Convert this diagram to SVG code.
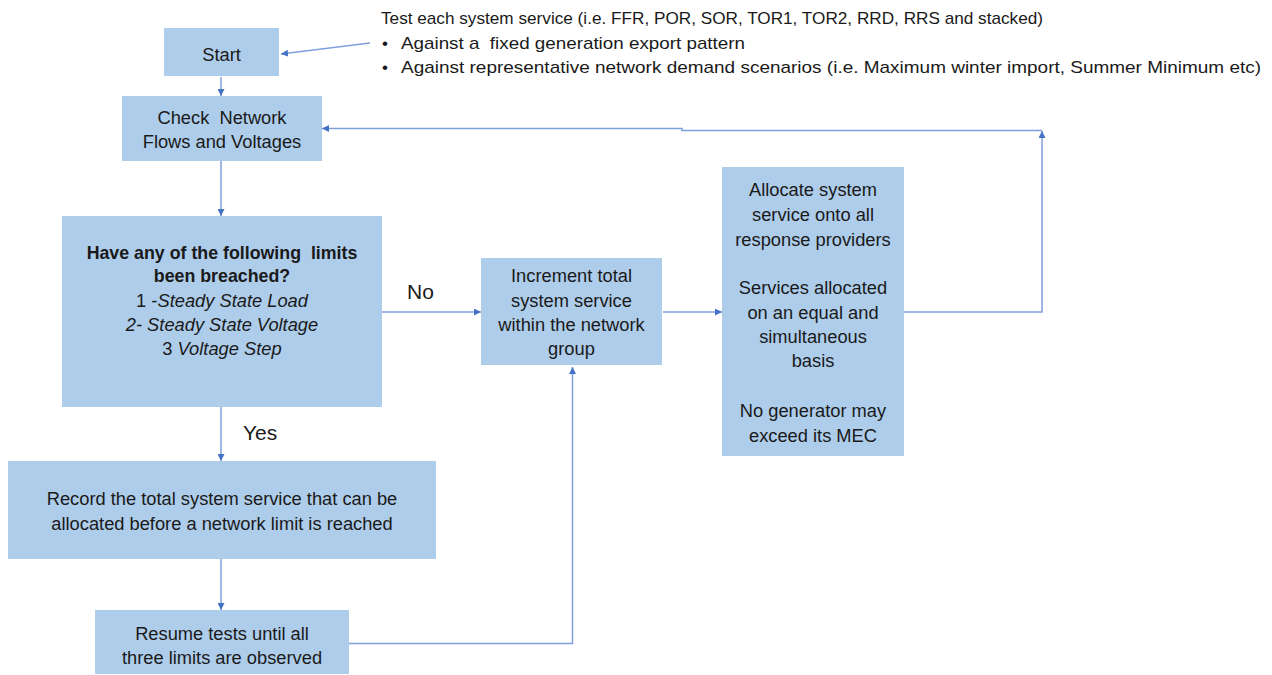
<svg xmlns="http://www.w3.org/2000/svg" width="1272" height="675" viewBox="0 0 1272 675">
<defs>
<style>
.box{fill:#AECDEA;}
.t{font-family:"Liberation Sans",Arial,sans-serif;font-size:18.3px;fill:#1a1a1a;text-anchor:middle;white-space:pre;}
.tl{font-family:"Liberation Sans",Arial,sans-serif;font-size:17px;fill:#1a1a1a;white-space:pre;}
.lbl{font-family:"Liberation Sans",Arial,sans-serif;font-size:21px;fill:#1a1a1a;}
.b{font-weight:bold;font-size:17.8px;}
.i{font-style:italic;}
.c{fill:none;stroke:#7E9FDC;stroke-width:1.5;}
</style>
<marker id="ah" viewBox="0 0 10 10" refX="10" refY="5" markerWidth="7" markerHeight="7" orient="auto" markerUnits="userSpaceOnUse">
<path d="M0,0 L10,5 L0,10 z" fill="#4472C4"/>
</marker>
</defs>
<rect width="1272" height="675" fill="#ffffff"/>

<g id="connectors">
<line class="c" x1="370" y1="43" x2="281" y2="54" marker-end="url(#ah)"/>
<line class="c" x1="221" y1="77" x2="221" y2="96" marker-end="url(#ah)"/>
<line class="c" x1="221" y1="161" x2="221" y2="216" marker-end="url(#ah)"/>
<line class="c" x1="382" y1="312" x2="481" y2="312" marker-end="url(#ah)"/>
<line class="c" x1="663" y1="312" x2="722" y2="312" marker-end="url(#ah)"/>
<polyline class="c" points="904,312 1042,312 1042,131" marker-end="url(#ah)"/>
<polyline class="c" points="1042,130.5 682,130.5 682,128.5 322,128.5" marker-end="url(#ah)"/>
<line class="c" x1="221" y1="407" x2="221" y2="461" marker-end="url(#ah)"/>
<line class="c" x1="221" y1="559" x2="221" y2="610" marker-end="url(#ah)"/>
<polyline class="c" points="349,643.5 572.5,643.5 572.5,367" marker-end="url(#ah)"/>
<text class="lbl" x="407" y="299">No</text>
<text class="lbl" x="243" y="440">Yes</text>
</g>

<g id="note">
<text class="tl" x="381" y="24" textLength="662" lengthAdjust="spacingAndGlyphs">Test each system service (i.e. FFR, POR, SOR, TOR1, TOR2, RRD, RRS and stacked)</text>
<text class="tl" x="382" y="49">•</text>
<text class="tl" x="401" y="49" textLength="344" lengthAdjust="spacingAndGlyphs">Against a  fixed generation export pattern</text>
<text class="tl" x="382" y="73">•</text>
<text class="tl" x="401" y="73" textLength="860" lengthAdjust="spacingAndGlyphs">Against representative network demand scenarios (i.e. Maximum winter import, Summer Minimum etc)</text>
</g>

<g id="start">
<rect class="box" x="164" y="28" width="115" height="48"/>
<text class="t" x="221.5" y="60.5">Start</text>
</g>

<g id="check">
<rect class="box" x="122" y="96" width="200" height="65"/>
<text class="t" x="222" y="123.5">Check  Network</text>
<text class="t" x="222" y="147.5">Flows and Voltages</text>
</g>

<g id="decision">
<rect class="box" x="62" y="216" width="320" height="191"/>
<text class="t b" x="222" y="258.5">Have any of the following  limits</text>
<text class="t b" x="222" y="281.5">been breached?</text>
<text class="t" x="222" y="306.5">1 -<tspan class="i">Steady State Load</tspan></text>
<text class="t i" x="222" y="330.5">2- Steady State Voltage</text>
<text class="t" x="222" y="354.5">3 <tspan class="i">Voltage Step</tspan></text>
</g>

<g id="increment">
<rect class="box" x="481" y="258" width="181" height="107"/>
<text class="t" x="571.5" y="281.5">Increment total</text>
<text class="t" x="571.5" y="306.5">system service</text>
<text class="t" x="571.5" y="330.5">within the network</text>
<text class="t" x="571.5" y="354.5">group</text>
</g>

<g id="allocate">
<rect class="box" x="722" y="167" width="182" height="289"/>
<text class="t" x="813" y="195.5">Allocate system</text>
<text class="t" x="813" y="220.5">service onto all</text>
<text class="t" x="813" y="245.5">response providers</text>
<text class="t" x="813" y="293.5">Services allocated</text>
<text class="t" x="813" y="318.5">on an equal and</text>
<text class="t" x="813" y="342.5">simultaneous</text>
<text class="t" x="813" y="366.5">basis</text>
<text class="t" x="813" y="416.5">No generator may</text>
<text class="t" x="813" y="441.5">exceed its MEC</text>
</g>

<g id="record">
<rect class="box" x="8" y="461" width="428" height="98"/>
<text class="t" x="222" y="504.5">Record the total system service that can be</text>
<text class="t" x="222" y="529.5">allocated before a network limit is reached</text>
</g>

<g id="resume">
<rect class="box" x="95" y="610" width="254" height="64"/>
<text class="t" x="222" y="639.5">Resume tests until all</text>
<text class="t" x="222" y="663.5">three limits are observed</text>
</g>
</svg>
